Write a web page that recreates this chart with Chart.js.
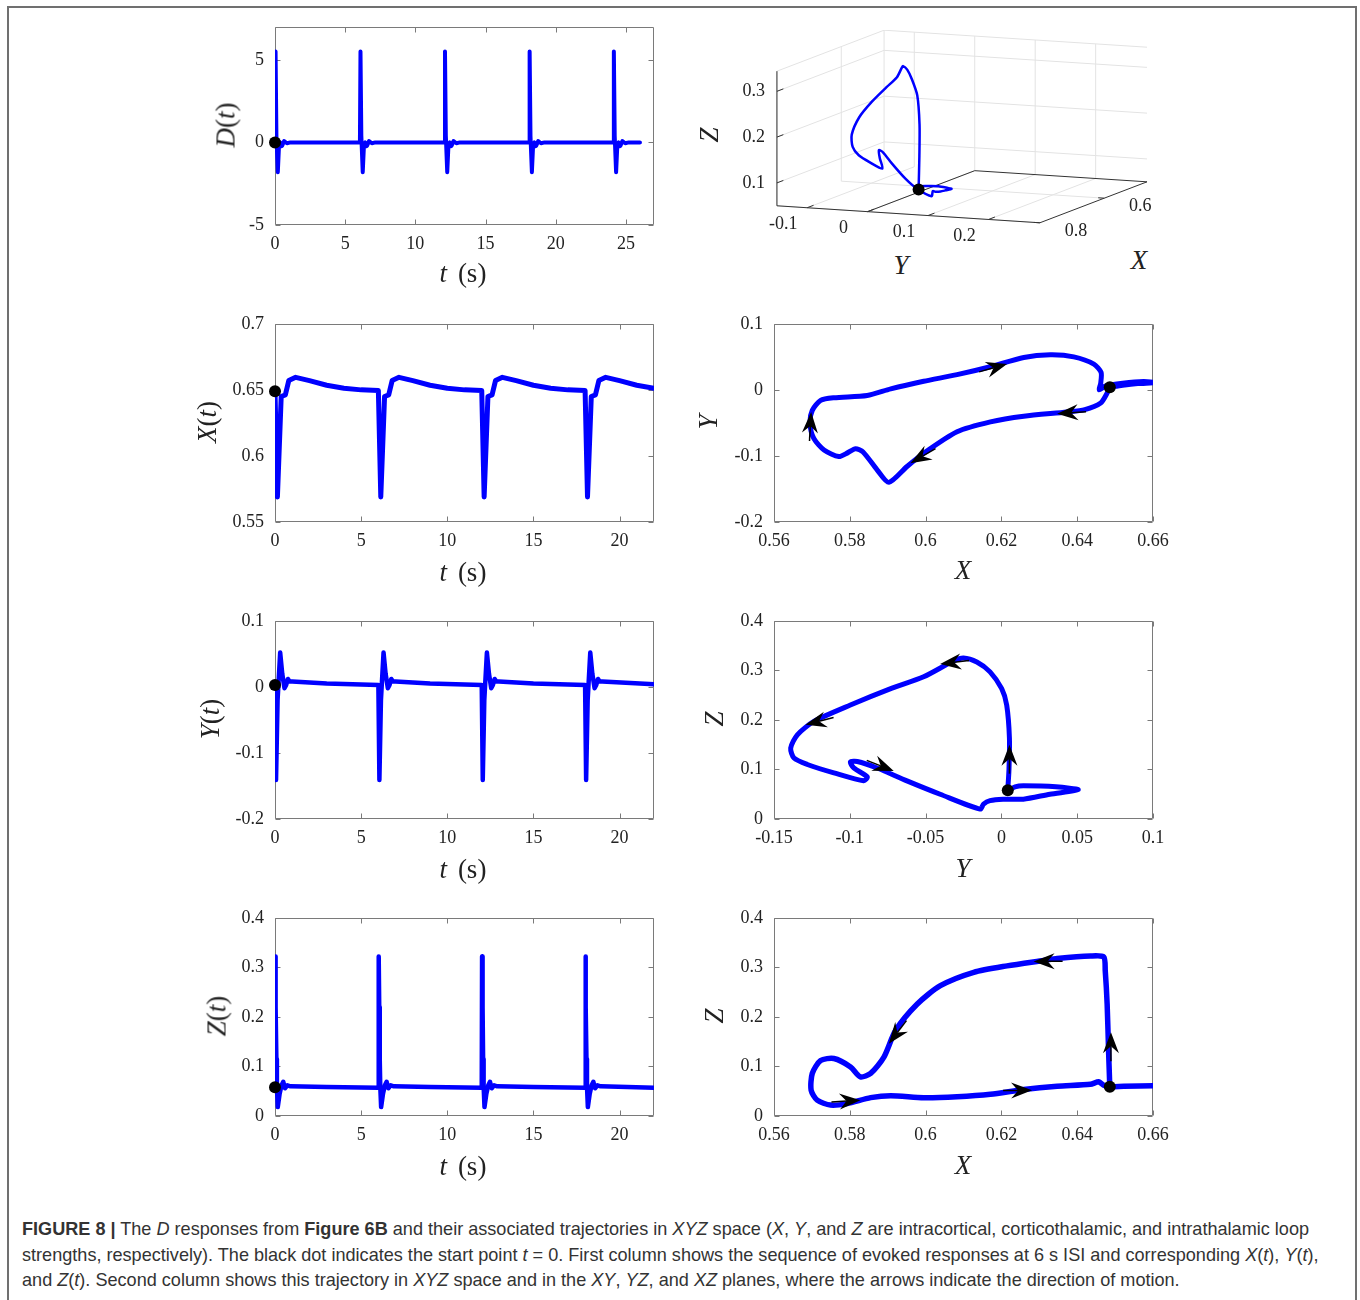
<!DOCTYPE html>
<html>
<head>
<meta charset="utf-8">
<script src="https://cdn.jsdelivr.net/npm/chart.js@4.4.1/dist/chart.umd.min.js"></script>
<style>
body { margin: 0; background: #fff; }
#page { position: relative; width: 1360px; height: 1300px; overflow: hidden; }
#frame { position: absolute; left: 7px; top: 6px; width: 1350px; height: 1320px; border: 2px solid #707070; box-sizing: border-box; }
canvas { position: absolute; }
.lab { position: absolute; font-family: 'Liberation Serif', serif; font-size: 27px; color: #222; white-space: nowrap; transform: translate(-50%, -50%); word-spacing: 4px; }
.lab.rot { transform: translate(-50%, -50%) rotate(-90deg); }
#caption { position: absolute; left: 22px; top: 1217px; font-family: 'Liberation Sans', Arial, sans-serif; font-size: 18.1px; line-height: 25.5px; color: #333; white-space: nowrap; }
</style>
</head>
<body>
<div id="page">
  <div id="frame"></div>
  <div id="caption"><b>FIGURE 8 |</b> The <i>D</i> responses from <b>Figure 6B</b> and their associated trajectories in <i>XYZ</i> space (<i>X</i>, <i>Y</i>, and <i>Z</i> are intracortical, corticothalamic, and intrathalamic loop<br>strengths, respectively). The black dot indicates the start point <i>t</i> = 0. First column shows the sequence of evoked responses at 6 s ISI and corresponding <i>X</i>(<i>t</i>), <i>Y</i>(<i>t</i>),<br>and <i>Z</i>(<i>t</i>). Second column shows this trajectory in <i>XYZ</i> space and in the <i>XY</i>, <i>YZ</i>, and <i>XZ</i> planes, where the arrows indicate the direction of motion.</div>
</div>
<script>
// ---- data ----
const dSeries = [
  [0,0],[0.04,5.5],[0.1,0.4],[0.2,-1.8],[0.28,-0.3],[0.38,0],[0.5,-0.22],[0.65,0.08],[0.85,-0.05],[1.1,0],
  [6.05,0],[6.09,5.5],[6.15,0.4],[6.25,-1.8],[6.33,-0.3],[6.43,0],[6.55,-0.22],[6.7,0.08],[6.9,-0.05],[7.15,0],
  [12.07,0],[12.11,5.5],[12.17,0.4],[12.27,-1.8],[12.35,-0.3],[12.45,0],[12.57,-0.22],[12.72,0.08],[12.92,-0.05],[13.17,0],
  [18.1,0],[18.14,5.5],[18.2,0.4],[18.3,-1.8],[18.38,-0.3],[18.48,0],[18.6,-0.22],[18.75,0.08],[18.95,-0.05],[19.2,0],
  [24.1,0],[24.14,5.5],[24.2,0.4],[24.3,-1.8],[24.38,-0.3],[24.48,0],[24.6,-0.22],[24.75,0.08],[24.95,-0.05],[25.2,0],[26,0]
];
const xSeries = [
  [0,0.649],[0.14,0.569],[0.36,0.645],[0.6,0.6462],[0.8,0.657],[1.2,0.6595],[2,0.657],[3,0.6535],[4,0.6512],[5,0.65],[6,0.6495],
  [6.14,0.569],[6.36,0.645],[6.6,0.6462],[6.8,0.657],[7.2,0.6595],[8,0.657],[9,0.6535],[10,0.6512],[11,0.65],[12,0.6495],
  [12.14,0.569],[12.36,0.645],[12.6,0.6462],[12.8,0.657],[13.2,0.6595],[14,0.657],[15,0.6535],[16,0.6512],[17,0.65],[18,0.6495],
  [18.14,0.569],[18.36,0.645],[18.6,0.6462],[18.8,0.657],[19.2,0.6595],[20,0.657],[21,0.6535],[22,0.6512]
];
const ySeries = [
  [0,0.003],[0.06,-0.141],[0.15,-0.02],[0.3,0.052],[0.42,0.02],[0.55,-0.002],[0.65,0.003],[0.75,0.012],[0.85,0.008],[1,0.008],[3,0.005],[6,0.003],
  [6.06,-0.141],[6.15,-0.02],[6.3,0.052],[6.42,0.02],[6.55,-0.002],[6.65,0.003],[6.75,0.012],[6.85,0.008],[7,0.008],[9,0.005],[12,0.003],
  [12.06,-0.141],[12.15,-0.02],[12.3,0.052],[12.42,0.02],[12.55,-0.002],[12.65,0.003],[12.75,0.012],[12.85,0.008],[13,0.008],[15,0.005],[18,0.003],
  [18.06,-0.141],[18.15,-0.02],[18.3,0.052],[18.42,0.02],[18.55,-0.002],[18.65,0.003],[18.75,0.012],[18.85,0.008],[19,0.008],[22,0.004]
];
const zSeries = [
  [0,0.058],[0.02,0.322],[0.05,0.22],[0.08,0.115],[0.11,0.06],[0.16,0.018],[0.27,0.045],[0.38,0.062],[0.48,0.069],[0.58,0.056],[0.72,0.062],[0.9,0.06],[3,0.0585],[6,0.057],
  [6.02,0.322],[6.05,0.22],[6.08,0.115],[6.11,0.06],[6.16,0.018],[6.27,0.045],[6.38,0.062],[6.48,0.069],[6.58,0.056],[6.72,0.062],[6.9,0.06],[9,0.0585],[12,0.057],
  [12.02,0.322],[12.05,0.22],[12.08,0.115],[12.11,0.06],[12.16,0.018],[12.27,0.045],[12.38,0.062],[12.48,0.069],[12.58,0.056],[12.72,0.062],[12.9,0.06],[15,0.0585],[18,0.057],
  [18.02,0.322],[18.05,0.22],[18.08,0.115],[18.11,0.06],[18.16,0.018],[18.27,0.045],[18.38,0.062],[18.48,0.069],[18.58,0.056],[18.72,0.062],[18.9,0.06],[22,0.057]
];
const xyPath = [
  [0.6486,0.004],[0.6478,-0.006],[0.6462,-0.02],[0.642,-0.03],[0.6373,-0.0335],[0.6259,-0.04],[0.6171,-0.0485],[0.6083,-0.0635],
  [0.5995,-0.096],[0.5951,-0.116],[0.5903,-0.14],[0.5872,-0.121],[0.5835,-0.094],[0.5815,-0.089],[0.5795,-0.095],[0.5771,-0.101],
  [0.5732,-0.091],[0.5705,-0.0735],[0.5695,-0.051],[0.5701,-0.031],[0.5723,-0.016],[0.5758,-0.012],[0.5846,-0.0085],[0.5908,0.0015],
  [0.5995,0.013],[0.6083,0.023],[0.6171,0.035],[0.6259,0.049],[0.6329,0.053],[0.6391,0.05],[0.6444,0.039],[0.6463,0.0265],
  [0.6462,0.01],[0.6458,0],[0.6475,0.006],[0.652,0.01],[0.6575,0.0125],[0.6605,0.011],[0.656,0.0095],[0.652,0.007],[0.6486,0.004]
];
const yzPath = [
  [0.0042,0.058],[0.005,0.1],[0.0053,0.163],[0.0035,0.23],[0.0002,0.263],[-0.0075,0.297],[-0.0162,0.317],[-0.025,0.325],
  [-0.0316,0.319],[-0.0513,0.287],[-0.073,0.263],[-0.0996,0.23],[-0.1237,0.197],[-0.1346,0.17],[-0.139,0.143],[-0.1368,0.123],
  [-0.128,0.11],[-0.1105,0.093],[-0.0908,0.077],[-0.0885,0.085],[-0.0974,0.103],[-0.0996,0.115],[-0.095,0.116],[-0.082,0.103],
  [-0.0623,0.077],[-0.0404,0.05],[-0.014,0.02],[-0.0118,0.03],[-0.0075,0.037],[0.0011,0.04],[0.0145,0.04],[0.032,0.05],
  [0.0507,0.059],[0.036,0.065],[0.0145,0.067],[0.009,0.065],[0.0042,0.058]
];
const xzPath = [
  [0.6486,0.0589],[0.6483,0.126],[0.6479,0.226],[0.6474,0.293],[0.647,0.321],[0.6435,0.323],[0.6347,0.318],[0.6312,0.314],
  [0.6215,0.303],[0.6127,0.29],[0.6039,0.263],[0.5978,0.226],[0.5921,0.173],[0.589,0.119],[0.5855,0.086],[0.5828,0.079],
  [0.5802,0.099],[0.5758,0.116],[0.5723,0.112],[0.5701,0.086],[0.5698,0.052],[0.5714,0.032],[0.5749,0.022],[0.5793,0.025],
  [0.5855,0.037],[0.5908,0.041],[0.5995,0.037],[0.6083,0.039],[0.6171,0.044],[0.6259,0.0535],[0.6347,0.06],[0.6435,0.064],
  [0.6457,0.069],[0.647,0.062],[0.6486,0.0589],[0.6523,0.06],[0.6605,0.061]
];
// one cycle in XYZ space: [X, Y, Z]
const xyzPath = [
  [0.649,0.004,0.058],[0.6485,0.005,0.13],[0.648,0.005,0.2],[0.6475,0.001,0.263],[0.647,-0.008,0.297],[0.645,-0.017,0.317],
  [0.641,-0.026,0.323],[0.632,-0.033,0.316],[0.613,-0.051,0.289],[0.604,-0.073,0.263],[0.598,-0.1,0.228],[0.593,-0.124,0.19],
  [0.59,-0.138,0.15],[0.589,-0.137,0.123],[0.587,-0.128,0.105],[0.585,-0.11,0.09],[0.583,-0.091,0.078],[0.58,-0.097,0.1],
  [0.577,-0.1,0.116],[0.573,-0.095,0.11],[0.57,-0.082,0.086],[0.5698,-0.06,0.055],[0.571,-0.04,0.035],[0.575,-0.014,0.022],
  [0.586,-0.006,0.037],[0.599,0.005,0.04],[0.611,0.02,0.045],[0.623,0.035,0.052],[0.633,0.05,0.059],[0.641,0.048,0.063],
  [0.645,0.035,0.067],[0.6462,0.015,0.066],[0.646,0,0.063],[0.649,0.004,0.058],[0.655,0.011,0.06],[0.66,0.011,0.061]
];
const startD = [[0,0]], startX = [[0,0.649]], startY = [[0,0.003]], startZ = [[0,0.058]];
const startXY = [[0.6486,0.004]], startYZ = [[0.0042,0.058]], startXZ = [[0.6486,0.0589]], startXYZ = [0.649,0.004,0.058];
// arrows: [tipX, tipY, dirX, dirY]
const xyArrows = [[0.6215,0.039,0.0088,0.014],[0.6347,-0.036,-0.01,-0.004],[0.596,-0.111,-0.006,-0.02],[0.5698,-0.0335,0.0002,0.02]];
const yzArrows = [[0.0053,0.15,0,0.02],[-0.0404,0.313,-0.02,-0.007],[-0.1292,0.19,-0.01,-0.008],[-0.071,0.097,0.01,-0.012]];
const xzArrows = [[0.6489,0.169,0,0.02],[0.6285,0.312,-0.01,-0.0005],[0.5903,0.146,-0.002,-0.02],[0.5828,0.032,0.01,0.005],[0.6281,0.052,0.01,0.001]];
// ticks
const tTicksD = [0,5,10,15,20,25], tTicks = [0,5,10,15,20];
const dTicks = [-5,0,5], xTicks = [0.55,0.6,0.65,0.7], yTicks = [-0.2,-0.1,0,0.1], zTicks = [0,0.1,0.2,0.3,0.4];
const xPhaseTicks = [0.56,0.58,0.6,0.62,0.64,0.66], yPhaseTicks = [-0.15,-0.1,-0.05,0,0.05,0.1];
const x3Ticks = [0.6,0.8], y3Ticks = [-0.1,0,0.1,0.2], z3Ticks = [0.1,0.2,0.3];

// ---- drawing ----
const page = document.getElementById('page');
const BLUE = '#0000ff', FRAME = '#7a7a7a', TXT = '#222';
const TICKFONT = { family: 'Liberation Serif', size: 18 };
const PADL = 90, PADR = 30, PADT = 20, PADB = 70;
const fmt = v => String(Math.round(v * 1000) / 1000);

const boxPlugin = {
  id: 'mbox',
  beforeDatasetsDraw(chart) {
    const { ctx, chartArea: a, scales: { x, y } } = chart;
    const L = Math.round(a.left) + 0.5, R = Math.round(a.right) - 0.5, T = Math.round(a.top) + 0.5, B = Math.round(a.bottom) - 0.5;
    ctx.save();
    ctx.strokeStyle = FRAME; ctx.lineWidth = 1;
    ctx.beginPath();
    ctx.rect(L, T, R - L, B - T);
    x.ticks.forEach(t => {
      const p = Math.round(x.getPixelForValue(t.value)) + 0.5;
      ctx.moveTo(p, B); ctx.lineTo(p, B - 5); ctx.moveTo(p, T); ctx.lineTo(p, T + 5);
    });
    y.ticks.forEach(t => {
      const p = Math.round(y.getPixelForValue(t.value)) + 0.5;
      ctx.moveTo(L, p); ctx.lineTo(L + 5, p); ctx.moveTo(R, p); ctx.lineTo(R - 5, p);
    });
    ctx.stroke();
    ctx.restore();
  }
};

function drawHead(ctx, px, py, ang) {
  const L = 21, W = 8, N = 7;
  ctx.save();
  ctx.translate(px, py); ctx.rotate(ang);
  ctx.strokeStyle = '#000'; ctx.lineWidth = 1.5;
  ctx.beginPath(); ctx.moveTo(-L + N, 0); ctx.lineTo(-L - 8, 0); ctx.stroke();
  ctx.fillStyle = '#000';
  ctx.beginPath(); ctx.moveTo(0, 0); ctx.lineTo(-L, -W); ctx.lineTo(-L + N, 0); ctx.lineTo(-L, W); ctx.closePath(); ctx.fill();
  ctx.restore();
}

const arrowPlugin = {
  id: 'arrows',
  afterDatasetsDraw(chart, args, opts) {
    if (!opts.list) return;
    const { ctx, scales: { x, y } } = chart;
    opts.list.forEach(([ax, ay, dx, dy]) => {
      const px = x.getPixelForValue(ax), py = y.getPixelForValue(ay);
      const qx = x.getPixelForValue(ax + dx), qy = y.getPixelForValue(ay + dy);
      drawHead(ctx, px, py, Math.atan2(qy - py, qx - px));
    });
  }
};

function axisCfg(min, max, ticks, isX) {
  return {
    type: 'linear', min: min, max: max,
    afterBuildTicks: s => { s.ticks = ticks.map(v => ({ value: v })); },
    afterFit: s => { if (isX) s.height = PADB; else s.width = PADL; },
    grid: { drawOnChartArea: false, drawTicks: false },
    border: { display: false },
    ticks: { padding: isX ? 8 : 11, font: TICKFONT, color: TXT, autoSkip: false, maxRotation: 0, callback: fmt }
  };
}

function makePanel(p) {
  const c = document.createElement('canvas');
  c.width = p.box[2] + PADL + PADR; c.height = p.box[3] + PADT + PADB;
  c.style.left = (p.box[0] - PADL) + 'px'; c.style.top = (p.box[1] - PADT) + 'px';
  page.appendChild(c);
  new Chart(c, {
    type: 'scatter',
    data: {
      datasets: [
        { data: p.start, pointRadius: 6, pointBackgroundColor: '#000', pointBorderWidth: 0, showLine: false, order: 0, clip: false },
        { data: p.line, showLine: true, borderColor: BLUE, borderWidth: p.lw, pointRadius: 0, tension: p.tension,
          borderJoinStyle: 'round', borderCapStyle: 'round', order: 1 }
      ]
    },
    options: {
      responsive: false, animation: false, events: [],
      layout: { padding: { left: 0, right: PADR, top: PADT, bottom: 0 } },
      plugins: { legend: { display: false }, tooltip: { enabled: false }, arrows: { list: p.arrows } },
      scales: { x: axisCfg(p.xr[0], p.xr[1], p.xt, true), y: axisCfg(p.yr[0], p.yr[1], p.yt, false) }
    },
    plugins: [boxPlugin, arrowPlugin]
  });
}

function label(html, x, y, rot) {
  const d = document.createElement('div');
  d.className = 'lab' + (rot ? ' rot' : '');
  d.style.left = x + 'px'; d.style.top = y + 'px';
  d.innerHTML = html;
  page.appendChild(d);
}

const W = 379, H = 200;
makePanel({ box: [275, 25, W, H], xr: [0, 27], xt: tTicksD, yr: [-5, 7], yt: dTicks, line: dSeries, start: startD, lw: 4, tension: 0 });
makePanel({ box: [275, 322, W, H], xr: [0, 22], xt: tTicks, yr: [0.55, 0.7], yt: xTicks, line: xSeries, start: startX, lw: 5, tension: 0 });
makePanel({ box: [275, 619, W, H], xr: [0, 22], xt: tTicks, yr: [-0.2, 0.1], yt: yTicks, line: ySeries, start: startY, lw: 4.5, tension: 0 });
makePanel({ box: [275, 916, W, H], xr: [0, 22], xt: tTicks, yr: [0, 0.4], yt: zTicks, line: zSeries, start: startZ, lw: 4.5, tension: 0 });
makePanel({ box: [774, 322, W, H], xr: [0.56, 0.66], xt: xPhaseTicks, yr: [-0.2, 0.1], yt: yTicks, line: xyPath, start: startXY, lw: 5, tension: 0.25, arrows: xyArrows });
makePanel({ box: [774, 619, W, H], xr: [-0.15, 0.1], xt: yPhaseTicks, yr: [0, 0.4], yt: zTicks, line: yzPath, start: startYZ, lw: 5, tension: 0.25, arrows: yzArrows });
makePanel({ box: [774, 916, W, H], xr: [0.56, 0.66], xt: xPhaseTicks, yr: [0, 0.4], yt: zTicks, line: xzPath, start: startXZ, lw: 5.5, tension: 0.25, arrows: xzArrows });

label('<i>t</i> (s)', 463, 273); label('<i>D</i>(<i>t</i>)', 226, 125, true);
label('<i>t</i> (s)', 463, 572); label('<i>X</i>(<i>t</i>)', 207, 422, true);
label('<i>t</i> (s)', 463, 869); label('<i>Y</i>(<i>t</i>)', 210, 719, true);
label('<i>t</i> (s)', 463, 1166); label('<i>Z</i>(<i>t</i>)', 217, 1016, true);
label('<i>X</i>', 963, 570); label('<i>Y</i>', 708, 422, true);
label('<i>Y</i>', 963, 868); label('<i>Z</i>', 714, 719, true);
label('<i>X</i>', 963, 1165); label('<i>Z</i>', 714, 1016, true);
label('<i>Y</i>', 901, 265); label('<i>X</i>', 1139, 260); label('<i>Z</i>', 709, 135, true);

// ---- 3D panel: orthographic view, projected into canvas pixels ----
const view3 = { left: 690, top: 30, w: 480, h: 260, ox: 773, oy: 208, a: [620, 41], b: [330, -129], e: -480,
                xf: 0.8, xb: 0.467, ya: -0.15, yb: 0.285, za: 0.05, zb: 0.344 };
function proj(X, Y, Z) {
  const dy = Y - view3.ya, dx = view3.xf - X, dz = Z - view3.za;
  return { x: view3.ox - view3.left + dy * view3.a[0] + dx * view3.b[0],
           y: view3.oy - view3.top + dy * view3.a[1] + dx * view3.b[1] + dz * view3.e };
}
const axes3Plugin = {
  id: 'axes3',
  beforeDatasetsDraw(chart) {
    const { ctx, scales: { x, y } } = chart;
    const v = view3;
    const px = p => [x.getPixelForValue(p.x), y.getPixelForValue(p.y)];
    const seg = (p, q) => { const a = px(p), b = px(q); ctx.moveTo(a[0], a[1]); ctx.lineTo(b[0], b[1]); };
    ctx.save();
    ctx.lineWidth = 1;
    // grid on left wall, back wall and floor
    ctx.strokeStyle = '#e3e3e3';
    ctx.beginPath();
    z3Ticks.forEach(z => { seg(proj(v.xf, v.ya, z), proj(v.xb, v.ya, z)); seg(proj(v.xb, v.ya, z), proj(v.xb, v.yb, z)); });
    x3Ticks.forEach(xx => { seg(proj(xx, v.ya, v.za), proj(xx, v.ya, v.zb)); seg(proj(xx, v.ya, v.za), proj(xx, v.yb, v.za)); });
    y3Ticks.forEach(yy => { seg(proj(v.xb, yy, v.za), proj(v.xb, yy, v.zb)); seg(proj(v.xf, yy, v.za), proj(v.xb, yy, v.za)); });
    seg(proj(v.xf, v.ya, v.zb), proj(v.xb, v.ya, v.zb)); seg(proj(v.xb, v.ya, v.zb), proj(v.xb, v.yb, v.zb));
    seg(proj(v.xb, v.ya, v.za), proj(v.xb, v.ya, v.zb));
    ctx.stroke();
    // axis lines
    ctx.strokeStyle = '#333';
    ctx.beginPath();
    seg(proj(v.xf, v.ya, v.za), proj(v.xf, v.ya, v.zb));
    seg(proj(v.xf, v.ya, v.za), proj(v.xf, v.yb, v.za));
    seg(proj(v.xf, v.yb, v.za), proj(v.xb, v.yb, v.za));
    seg(proj(v.xf, 0, v.za), proj(v.xb, 0, v.za));
    seg(proj(v.xb, 0, v.za), proj(v.xb, v.yb, v.za));
    z3Ticks.forEach(z => seg(proj(v.xf, v.ya, z), proj(v.xf - 0.02, v.ya, z)));
    y3Ticks.forEach(yy => seg(proj(v.xf, yy, v.za), proj(v.xf - 0.02, yy, v.za)));
    x3Ticks.forEach(xx => seg(proj(xx, v.yb, v.za), proj(xx, v.yb - 0.01, v.za)));
    ctx.stroke();
    // tick labels
    ctx.fillStyle = TXT; ctx.font = '18px "Liberation Serif"'; ctx.textBaseline = 'middle';
    ctx.textAlign = 'right';
    z3Ticks.forEach(z => { const p = px(proj(v.xf, v.ya, z)); ctx.fillText(fmt(z), p[0] - 12, p[1]); });
    ctx.textAlign = 'center';
    y3Ticks.forEach(yy => { const p = px(proj(v.xf, yy, v.za)); ctx.fillText(fmt(yy), p[0] - 24, p[1] + 17); });
    x3Ticks.forEach(xx => { const p = px(proj(xx, v.yb, v.za)); ctx.fillText(fmt(xx), p[0] + 36, p[1] + 8); });
    ctx.restore();
  }
};
(function () {
  const c = document.createElement('canvas');
  c.width = view3.w; c.height = view3.h;
  c.style.left = view3.left + 'px'; c.style.top = view3.top + 'px';
  page.appendChild(c);
  const s = proj(startXYZ[0], startXYZ[1], startXYZ[2]);
  new Chart(c, {
    type: 'scatter',
    data: {
      datasets: [
        { data: [s], pointRadius: 6, pointBackgroundColor: '#000', pointBorderWidth: 0, order: 0 },
        { data: xyzPath.map(q => proj(q[0], q[1], q[2])), showLine: true, borderColor: BLUE, borderWidth: 2.5,
          pointRadius: 0, tension: 0.25, borderJoinStyle: 'round', order: 1 }
      ]
    },
    options: {
      responsive: false, animation: false, events: [],
      layout: { padding: 0 },
      plugins: { legend: { display: false }, tooltip: { enabled: false } },
      scales: {
        x: { type: 'linear', display: false, min: 0, max: view3.w },
        y: { type: 'linear', display: false, min: 0, max: view3.h, reverse: true }
      }
    },
    plugins: [axes3Plugin]
  });
})();
</script>
</body>
</html>
